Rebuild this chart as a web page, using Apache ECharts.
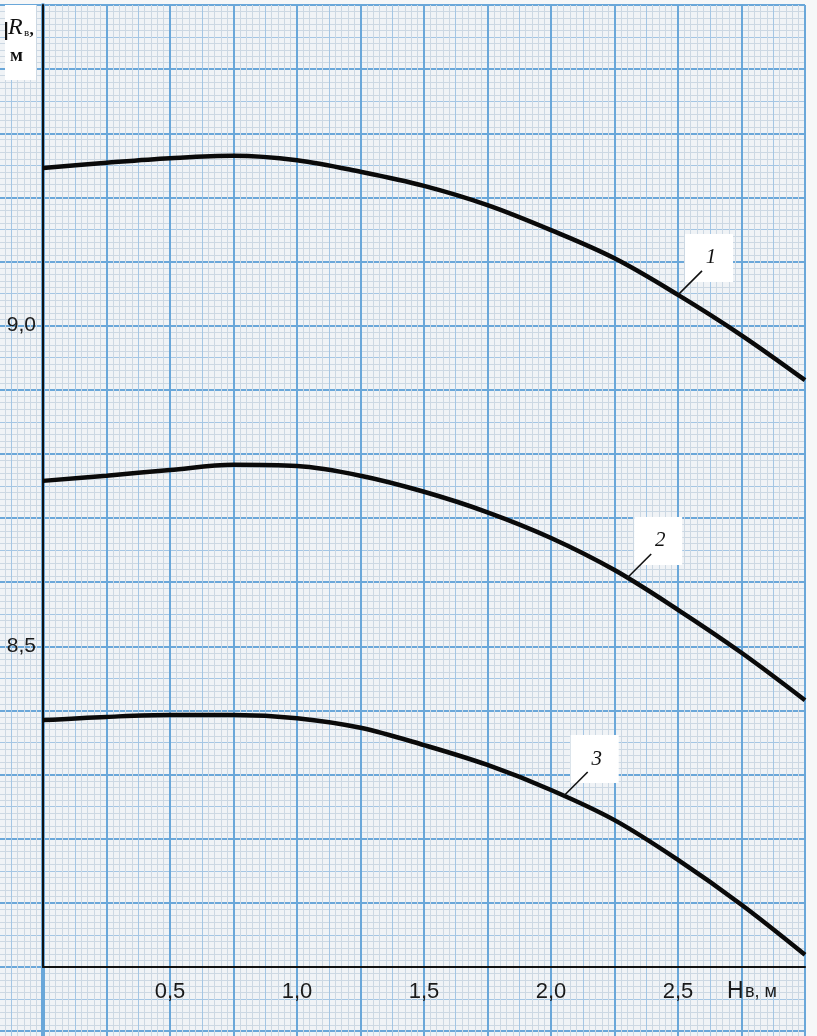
<!DOCTYPE html>
<html>
<head>
<meta charset="utf-8">
<script src="https://cdn.jsdelivr.net/npm/echarts@6/dist/echarts.min.js"></script>
<style>
  html, body { margin: 0; padding: 0; background: #f6f7f8; }
  #chart { width: 817px; height: 1036px; }
</style>
</head>
<body>
<div id="chart"></div>
<script>
// Water head H (m) along the horizontal axis
const H = [0, 0.25, 0.5, 0.75, 1.0, 1.25, 1.5, 1.75, 2.0, 2.25, 2.5, 2.75, 3.0];
// Radius R (m) for curves 1, 2 and 3
const R1 = [9.246, 9.254, 9.261, 9.265, 9.258, 9.240, 9.218, 9.188, 9.149, 9.105, 9.048, 8.985, 8.915];
const R2 = [8.758, 8.766, 8.775, 8.783, 8.781, 8.766, 8.741, 8.709, 8.669, 8.619, 8.557, 8.490, 8.416];
const R3 = [8.385, 8.390, 8.393, 8.393, 8.388, 8.373, 8.346, 8.315, 8.276, 8.229, 8.167, 8.097, 8.019];
// Curve tags and the H at which each tag's leader touches its curve
const curveTags = ['1', '2', '3'];
const tagAt = [2.5, 2.3, 2.05];
// Tick labels shown on the axes
const xTickLabels = ['0,5', '1,0', '1,5', '2,0', '2,5'];
const yTickLabels = ['8,5', '9,0'];

const curves = [R1, R2, R3];
const fmt = v => v.toFixed(1).replace('.', ',');

const chart = echarts.init(document.getElementById('chart'), null, { renderer: 'canvas' });

// graph-paper rulings: 1 mm, 5 mm and 1 cm lines
const fine = '#ccd8e3';
const medium = '#a4c6e4';
const major = '#6aa7d9';

function paperAxisX(idx, interval, lineColor, lineWidth, withMinor) {
  return {
    type: 'value', gridIndex: idx, min: -0.25, max: 3.0, interval: interval,
    axisLine: { show: false }, axisTick: { show: false }, axisLabel: { show: false },
    splitLine: { show: true, lineStyle: { color: lineColor, width: lineWidth } },
    minorTick: { show: false, splitNumber: 5 },
    minorSplitLine: { show: withMinor, lineStyle: { color: fine, width: 1 } },
    z: 0
  };
}
function paperAxisY(idx, interval, lineColor, lineWidth, withMinor) {
  return {
    type: 'value', gridIndex: idx, min: 7.8, max: 9.5, interval: interval,
    axisLine: { show: false }, axisTick: { show: false }, axisLabel: { show: false },
    splitLine: { show: true, lineStyle: { color: lineColor, width: lineWidth } },
    minorTick: { show: false, splitNumber: 5 },
    minorSplitLine: { show: withMinor, lineStyle: { color: fine, width: 1 } },
    z: 0
  };
}

// the sheet reaches past the left and bottom edges of the page
const paperBox = { left: -20.5, right: 12, top: 5, bottom: -59.3, outerBoundsMode: 'none', containLabel: false };

const option = {
  backgroundColor: '#f6f7f8',
  animation: false,
  grid: [
    { left: 43, right: 12, top: 5, bottom: 69, show: false },
    Object.assign({ show: true, backgroundColor: '#f0f3f6', borderWidth: 0 }, paperBox),
    Object.assign({ show: false }, paperBox)
  ],
  xAxis: [
    {
      type: 'value', gridIndex: 0, min: 0, max: 3.0, interval: 0.5,
      axisLine: { show: true, onZero: false, lineStyle: { color: '#111', width: 2 } },
      axisTick: { show: false },
      splitLine: { show: false },
      axisLabel: {
        margin: 14, color: '#1a1a1a', fontSize: 22, fontFamily: 'Liberation Sans, Arial, sans-serif',
        formatter: v => (xTickLabels.indexOf(fmt(v)) >= 0 ? fmt(v) : '')
      },
      z: 5
    },
    paperAxisX(1, 0.125, medium, 1, true),
    paperAxisX(2, 0.25, major, 2, false)
  ],
  yAxis: [
    {
      type: 'value', gridIndex: 0, min: 8.0, max: 9.5, interval: 0.5,
      axisLine: { show: true, onZero: false, lineStyle: { color: '#111', width: 2 } },
      axisTick: { show: false },
      splitLine: { show: false },
      axisLabel: {
        margin: 7, color: '#1a1a1a', fontSize: 21, fontFamily: 'Liberation Sans, Arial, sans-serif',
        formatter: v => (yTickLabels.indexOf(fmt(v)) >= 0 ? fmt(v) : '')
      },
      z: 5
    },
    paperAxisY(1, 0.05, medium, 1, true),
    Object.assign(paperAxisY(2, 0.1, major, 2, false), {
      position: 'right',
      axisLine: { show: true, lineStyle: { color: major, width: 4 } }
    })
  ],
  series: curves.map((R, i) => ({
    name: curveTags[i],
    type: 'line',
    xAxisIndex: 0, yAxisIndex: 0,
    data: H.map((h, k) => [h, R[k]]),
    smooth: 0.35,
    showSymbol: false,
    lineStyle: { color: '#0a0a0a', width: 4.5 },
    z: 10
  }))
};

chart.setOption(option);

// Curve value at h, read from the tabulated points (for placing tags)
function valueAt(R, h) {
  for (let k = 0; k < H.length - 1; k++) {
    if (h >= H[k] && h <= H[k + 1]) {
      const t = (h - H[k]) / (H[k + 1] - H[k]);
      return R[k] + t * (R[k + 1] - R[k]);
    }
  }
  return R[R.length - 1];
}

const serif = 'Liberation Serif, Times New Roman, serif';
const sans = 'Liberation Sans, Arial, sans-serif';
const graphics = [];

// Axis title at the top of the vertical axis
graphics.push({
  type: 'rect', left: 5, top: 5, shape: { width: 31, height: 75 },
  style: { fill: '#ffffff' }, z: 20
});
graphics.push({
  type: 'rect', left: 5, top: 22, shape: { width: 2.2, height: 18 },
  style: { fill: '#111' }, z: 21
});
graphics.push({
  type: 'text', x: 8, y: 40, z: 21,
  style: { text: 'R', fontFamily: serif, fontStyle: 'italic', fontSize: 24, fill: '#111', verticalAlign: 'bottom' }
});
graphics.push({
  type: 'text', x: 24, y: 39, z: 21,
  style: { text: 'в', fontFamily: serif, fontSize: 11, fill: '#111', verticalAlign: 'bottom' }
});
graphics.push({
  type: 'text', x: 29.5, y: 39, z: 21,
  style: { text: ',', fontFamily: serif, fontSize: 17, fontWeight: 'bold', fill: '#111', verticalAlign: 'bottom' }
});
graphics.push({
  type: 'text', x: 10, y: 66, z: 21,
  style: { text: 'м', fontFamily: serif, fontWeight: 'bold', fontSize: 19, fill: '#111', verticalAlign: 'bottom' }
});

// Axis title at the end of the horizontal axis
graphics.push({
  type: 'text', x: 727, y: 1003, z: 21,
  style: { text: 'Н', fontFamily: sans, fontSize: 23, fill: '#1a1a1a', verticalAlign: 'bottom' }
});
graphics.push({
  type: 'text', x: 745, y: 1001, z: 21,
  style: { text: 'в, м', fontFamily: sans, fontSize: 18, fill: '#1a1a1a', verticalAlign: 'bottom' }
});

// Curve tags with leader lines
curveTags.forEach((tag, i) => {
  const h = tagAt[i];
  const p = chart.convertToPixel({ gridIndex: 0 }, [h, valueAt(curves[i], h)]);
  const ax = p[0], ay = p[1];
  graphics.push({
    type: 'rect', left: ax + 7, top: ay - 61, shape: { width: 48, height: 48 },
    style: { fill: '#ffffff' }, z: 20
  });
  graphics.push({
    type: 'line', shape: { x1: ax, y1: ay, x2: ax + 24, y2: ay - 24 },
    style: { stroke: '#111', lineWidth: 1.6 }, z: 21
  });
  graphics.push({
    type: 'text', x: ax + 33, y: ay - 37, z: 21,
    style: {
      text: tag, fontFamily: serif, fontStyle: 'italic',
      fontSize: 21, fill: '#111', align: 'center', verticalAlign: 'middle'
    }
  });
});

chart.setOption({ graphic: graphics });
</script>
</body>
</html>
